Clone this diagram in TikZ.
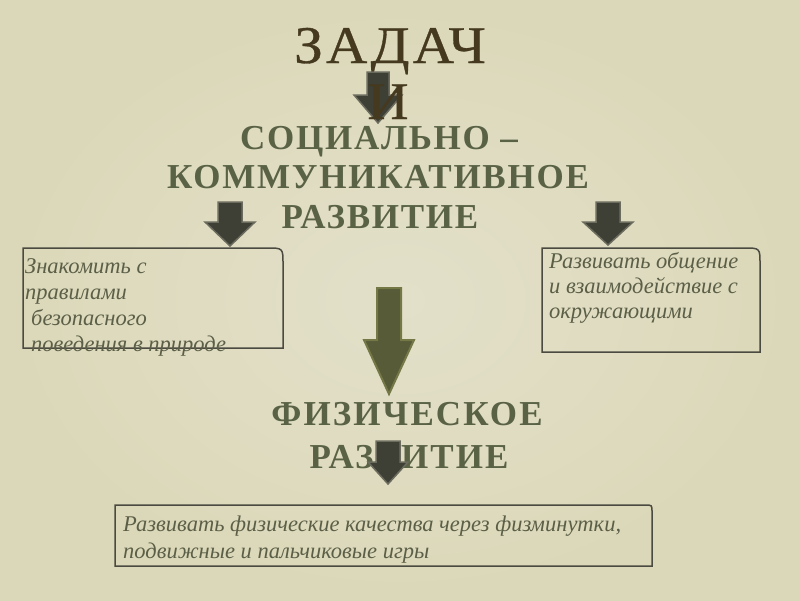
\documentclass[tikz,border=0pt]{standalone}
\usepackage{fontspec}
\setmainfont{Liberation Serif}
\newfontfamily\titlefont[LetterSpace=6,FakeStretch=1.08,FakeBold=0.6]{Liberation Serif}
\newfontfamily\headfont[LetterSpace=5]{Liberation Serif}
\newfontfamily\headfontw[LetterSpace=6]{Liberation Serif}
\definecolor{bgin}{HTML}{E3E0CA}
\definecolor{bgout}{HTML}{DBD8B9}
\definecolor{titlec}{HTML}{45391F}
\definecolor{headc}{HTML}{5A6246}
\definecolor{boxtext}{HTML}{5C5F47}
\definecolor{boxline}{HTML}{4B4A40}
\definecolor{darrfill}{HTML}{3E4036}
\definecolor{darrline}{HTML}{6B6B5E}
\definecolor{oarrfill}{HTML}{575B37}
\definecolor{oarrline}{HTML}{747846}
\tikzset{
  titletext/.style={text=titlec, font=\fontsize{53}{55}\titlefont, inner sep=0pt, anchor=base},
  headtext/.style={text=headc, font=\fontsize{35}{40}\headfont\bfseries, inner sep=0pt, anchor=base},
  headtextw/.style={text=headc, font=\fontsize{35}{40}\headfontw\bfseries, inner sep=0pt, anchor=base},
  boxtxt/.style={text=boxtext, font=\fontsize{22.5}{25}\selectfont\itshape, anchor=base west, inner sep=0pt},
  boxframe/.style={draw=boxline, line width=1.5pt},
  darkarrow/.style={fill=darrfill, draw=darrline, line width=1.5pt, line join=miter},
  olivearrow/.style={fill=oarrfill, draw=oarrline, line width=2pt, line join=miter}
}
% #1 style, #2 cx, #3 top, #4 neck, #5 tip, #6 shaft half, #7 head half
\newcommand\blockarr[7]{\draw[#1] ({#2-#6},#3) -- ({#2+#6},#3) -- ({#2+#6},#4) -- ({#2+#7},#4) -- (#2,#5) -- ({#2-#7},#4) -- ({#2-#6},#4) -- cycle;}
% #1 x1, #2 y1, #3 x2, #4 y2, #5 radius
\newcommand\roundbox[5]{\draw[boxframe] (#1,#2) -- ({#3-#5},#2) .. controls (#3,#2) .. (#3,{#2+#5}) -- (#3,#4) -- (#1,#4) -- cycle;}
\begin{document}
\begin{tikzpicture}[x=1pt,y=-1pt]
\useasboundingbox (0,0) rectangle (800,600);
\shade[inner color=bgin, outer color=bgout] (0,0) rectangle (800,600);

% boxes
\roundbox{23}{248}{283}{348}{16}
\roundbox{542}{248}{760}{352}{16}
\roundbox{115}{505}{652}{566}{7}

% box texts
\node[boxtxt] (t1a) at (25,273) {Знакомить с};
\node[boxtxt] (t1b) at (25,299) {правилами};
\node[boxtxt] (t1c) at (31,325) {безопасного};
\node[boxtxt] (t1d) at (31,351) {поведения в природе};
\node[boxtxt] (t2a) at (549,268) {Развивать общение};
\node[boxtxt] (t2b) at (549,293) {и взаимодействие с};
\node[boxtxt] (t2c) at (549,318) {окружающими};
\node[boxtxt] (t3a) at (123,531) {Развивать физические качества через физминутки,};
\node[boxtxt] (t3b) at (123,558) {подвижные и пальчиковые игры};

% headings
\node[titletext] (zad) at (390,63) {ЗАДАЧ};
\node[headtext] (soc1) at (379,149) {СОЦИАЛЬНО –};
\node[headtext] (soc2) at (378,188) {КОММУНИКАТИВНОЕ};
\node[headtext] (soc3) at (380,228) {РАЗВИТИЕ};
\node[headtextw] (fiz1) at (407,425) {ФИЗИЧЕСКОЕ};
\node[headtextw] (fiz2) at (409,468) {РАЗВИТИЕ};

% arrows
\blockarr{darkarrow}{378}{72}{95}{123}{11}{24}
\node[titletext] (zadi) at (388,119) {И};
\blockarr{darkarrow}{230}{202}{222}{246}{12}{25}
\blockarr{darkarrow}{608}{202}{222}{245}{12}{25}
\blockarr{olivearrow}{389}{288}{340}{394}{12}{25}
\blockarr{darkarrow}{388}{441}{462}{484}{12}{20}
\end{tikzpicture}
\end{document}
